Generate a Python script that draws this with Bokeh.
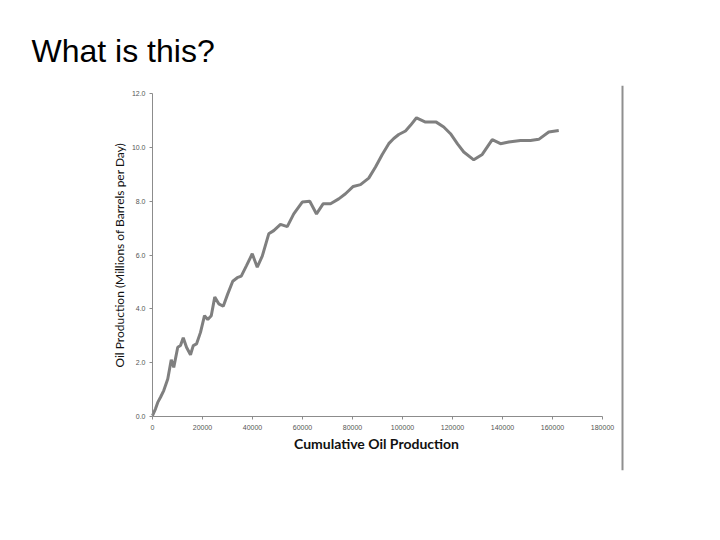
import math
from bokeh.plotting import figure
from bokeh.models import Range1d, FixedTicker, NumeralTickFormatter, Span, Label
from bokeh.embed import file_html
from bokeh.resources import INLINE

# cumulative production (barrels, millions) and daily production (million bbl/day)
cum_prod = [0, 1200, 2100, 3200, 4500, 6100, 7500, 8500, 10100, 11200, 12300, 13600,
            15200, 16300, 17600, 19200, 20800, 22100, 23500, 24900, 26500, 28300, 30100,
            32100, 33900, 35500, 37600, 39900, 41900, 43900, 46500, 48500, 51200, 53900,
            56500, 59900, 62900, 65600, 68300, 71200, 74500, 77200, 80300, 83200, 86500,
            89200, 91900, 94500, 96500, 98500, 101200, 103200, 105600, 109200, 113500,
            116500, 119200, 122000, 124500, 128500, 131900, 135900, 139200, 142500, 147200,
            151200, 154500, 158500, 162500]
oil_rate = [0.04, 0.29, 0.53, 0.72, 0.97, 1.40, 2.11, 1.83, 2.58, 2.64, 2.93, 2.58,
            2.30, 2.64, 2.70, 3.13, 3.75, 3.61, 3.75, 4.44, 4.19, 4.10, 4.56,
            5.03, 5.16, 5.22, 5.61, 6.05, 5.55, 5.96, 6.79, 6.91, 7.14, 7.06,
            7.53, 7.97, 8.00, 7.53, 7.91, 7.91, 8.09, 8.28, 8.55, 8.62, 8.86,
            9.27, 9.74, 10.14, 10.33, 10.48, 10.61, 10.82, 11.10, 10.94, 10.94,
            10.76, 10.51, 10.13, 9.83, 9.54, 9.74, 10.29, 10.14, 10.20, 10.26,
            10.26, 10.30, 10.57, 10.63]

x_ticks = [0, 20000, 40000, 60000, 80000, 100000, 120000, 140000, 160000, 180000]
y_ticks = [0, 2, 4, 6, 8, 10, 12]
x_axis_bounds = (0, 180000)
y_axis_bounds = (0, 12)
picture_edge_x = 188000

p = figure(width=700, height=520, output_backend="svg", toolbar_location=None,
           x_range=Range1d(-20800, 188800), y_range=Range1d(-2.0, 12.3),
           min_border_left=100, min_border_right=76, min_border_top=85,
           min_border_bottom=50)
p.outline_line_color = None
p.grid.visible = False
p.background_fill_color = "white"
p.border_fill_color = "white"

p.line(cum_prod, oil_rate, line_color="#7f7f7f", line_width=3)

for ax in (p.xaxis[0], p.yaxis[0]):
    ax.axis_line_color = "#8c8c8c"
    ax.axis_line_width = 1
    ax.major_tick_line_color = "#8c8c8c"
    ax.major_tick_out = 3
    ax.major_tick_in = 0
    ax.minor_tick_line_color = None
    ax.major_label_text_font = "Liberation Sans"
    ax.major_label_text_font_size = "7px"
    ax.major_label_text_color = "#555555"

p.xaxis.ticker = FixedTicker(ticks=x_ticks)
p.yaxis.ticker = FixedTicker(ticks=y_ticks)
p.xaxis.bounds = x_axis_bounds
p.yaxis.bounds = y_axis_bounds
p.xaxis.fixed_location = 0
p.yaxis.fixed_location = 0
p.xaxis.formatter = NumeralTickFormatter(format="0")
p.yaxis.formatter = NumeralTickFormatter(format="0.0")
p.xaxis.major_label_standoff = 5
p.yaxis.major_label_standoff = 4

# axis titles
p.add_layout(Label(x=89600, y=-1.0, text="Cumulative Oil Production",
                   text_font="Lato", text_font_style="bold", text_font_size="14px",
                   text_color="#111111", text_align="center", text_baseline="middle"))
p.add_layout(Label(x=-13200, y=6.0, text="Oil Production (Millions of Barrels per Day)",
                   angle=math.pi / 2, text_font="Lato", text_font_style="normal",
                   text_font_size="12px", text_color="#111111",
                   text_align="center", text_baseline="middle"))

# slide heading
p.title.text = "What is this?"
p.title.text_font = "Liberation Sans"
p.title.text_font_size = "32px"
p.title.text_font_style = "normal"
p.title.text_color = "black"
p.title.align = "left"
p.title.offset = -69
p.title.standoff = 34

# right border line of the embedded chart picture
p.add_layout(Span(location=picture_edge_x, dimension="height",
                  line_color="#8f8f8f", line_width=2))

open("out.html", "w").write(file_html(p, INLINE))
